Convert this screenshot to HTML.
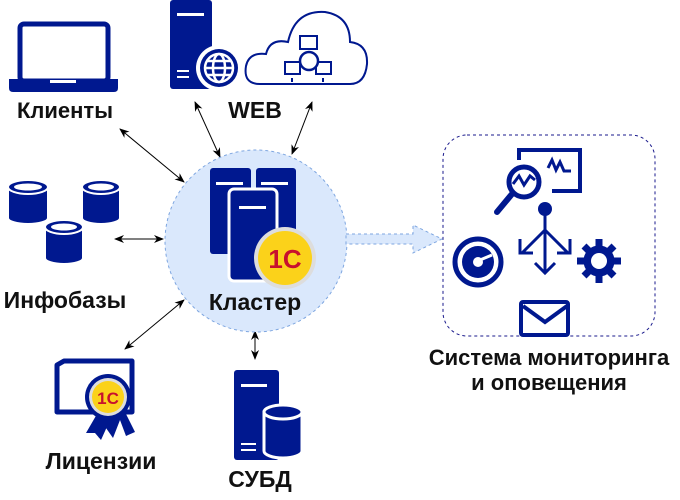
<!DOCTYPE html>
<html><head><meta charset="utf-8"><style>
html,body{margin:0;padding:0;background:#fff;}
svg{display:block}
text{font-family:"Liberation Sans",sans-serif;font-weight:bold;fill:#111;}
</style></head><body>
<svg width="680" height="500" viewBox="0 0 680 500" xmlns="http://www.w3.org/2000/svg">
<defs>
<marker id="ah" viewBox="0 0 10 10" refX="9" refY="5" markerWidth="10" markerHeight="10" orient="auto-start-reverse">
<path d="M0,1 L10,5 L0,9 L3,5 Z" fill="#000"/></marker>
</defs>
<g stroke="#000" stroke-width="1" marker-start="url(#ah)" marker-end="url(#ah)">
<line x1="120" y1="129" x2="184" y2="182"/>
<line x1="195" y1="102" x2="220" y2="157"/>
<line x1="312" y1="102" x2="292" y2="154"/>
<line x1="115" y1="239" x2="163" y2="239"/>
<line x1="184" y1="300" x2="125" y2="349"/>
<line x1="255" y1="331" x2="255" y2="359"/>
</g>
<circle cx="256" cy="241" r="91" fill="#dae8fc" stroke="#7ea6e0" stroke-dasharray="3,3"/>
<path d="M346,234 L413,234 L413,225 L442,239 L413,253 L413,244 L346,244 Z" fill="#dae8fc" stroke="#7ea6e0" stroke-dasharray="3,3"/>
<g fill="#00188f">
<rect x="210" y="168" width="41" height="86" rx="3"/>
<rect x="256" y="168" width="40" height="86" rx="3"/>
</g>
<g fill="#fff"><rect x="216" y="182" width="27" height="3"/><rect x="261" y="182" width="27" height="3"/></g>
<rect x="229" y="189" width="48" height="92" rx="5" fill="#00188f" stroke="#fff" stroke-width="3"/>
<rect x="239" y="206" width="27" height="3" fill="#fff"/>
<circle cx="285" cy="258" r="31" fill="#ddd"/>
<circle cx="285" cy="258" r="27" fill="#fbd21a"/>
<text x="285" y="268" text-anchor="middle" font-size="26" style="fill:#c8102e;font-weight:bold">1С</text>
<text x="255" y="310" text-anchor="middle" font-size="23">Кластер</text>

<rect x="20" y="24" width="88" height="57" rx="4" fill="none" stroke="#00188f" stroke-width="5"/>
<path d="M9,79 L118,79 L118,88 Q118,92 114,92 L13,92 Q9,92 9,88 Z" fill="#00188f"/>
<rect x="50" y="80" width="26" height="3" fill="#fff"/>
<text x="65" y="118" text-anchor="middle" font-size="22">Клиенты</text>

<rect x="170" y="0" width="42" height="89" rx="3" fill="#00188f"/>
<rect x="177" y="13" width="27" height="3" fill="#fff"/>
<rect x="177" y="70" width="12" height="2" fill="#fff"/><rect x="177" y="76" width="12" height="2" fill="#fff"/>
<circle cx="219" cy="68" r="23" fill="#fff"/>
<circle cx="219" cy="68" r="19" fill="#00188f"/>
<g fill="none" stroke="#fff" stroke-width="2.5">
<circle cx="219" cy="68" r="14"/><ellipse cx="219" cy="68" rx="6" ry="14"/>
<line x1="205" y1="68" x2="233" y2="68"/><line x1="207" y1="61" x2="231" y2="61"/><line x1="207" y1="75" x2="231" y2="75"/>
</g>
<path d="M260,84 Q243,84 246,66 Q249,52 266,54 Q270,38 288,42 Q295,10 325,12 Q350,16 350,42 Q368,44 367,64 Q365,84 350,84 Z" fill="none" stroke="#00188f" stroke-width="2"/>
<g fill="none" stroke="#00188f" stroke-width="2">
<rect x="300" y="36" width="17" height="13"/><rect x="285" y="62" width="15" height="12"/><rect x="316" y="62" width="15" height="12"/>
<line x1="292" y1="78" x2="292" y2="82"/><line x1="323" y1="78" x2="323" y2="82"/>
</g>
<circle cx="309" cy="61" r="9" fill="#fff" stroke="#00188f" stroke-width="2.5"/>
<text x="255" y="118" text-anchor="middle" font-size="23">WEB</text>

<g fill="#00188f" stroke="#fff" stroke-width="2">
<path d="M8,187 L8,218 A20,6 0 0 0 48,218 L48,187 Z"/><ellipse cx="28" cy="187" rx="20" ry="7"/>
<path d="M82,187 L82,218 A19,6 0 0 0 120,218 L120,187 Z"/><ellipse cx="101" cy="187" rx="19" ry="7"/>
<path d="M45,227 L45,258 A19,6 0 0 0 83,258 L83,227 Z"/><ellipse cx="64" cy="227" rx="19" ry="7"/>
</g>
<g fill="#fff"><ellipse cx="28" cy="187" rx="14" ry="3.5"/><ellipse cx="101" cy="187" rx="13" ry="3.5"/><ellipse cx="64" cy="227" rx="13" ry="3.5"/></g>
<text x="65" y="308" text-anchor="middle" font-size="23">Инфобазы</text>

<path d="M57,365 L64,361 L132,361 L132,412 L57,412 Z" fill="none" stroke="#00188f" stroke-width="5" stroke-linejoin="round"/>
<path d="M95,420 L99,438 L106,428 L113,438 L120,420 L126,436 L135,432 L125,412 Z" fill="#00188f"/>
<path d="M97,414 L86,433 L95,433 L101,440 L110,420 Z" fill="#00188f"/>
<circle cx="108" cy="397" r="23" fill="#00188f"/>
<circle cx="108" cy="397" r="19" fill="#ddd"/>
<circle cx="108" cy="397" r="16" fill="#fbd21a"/>
<text x="108" y="404" text-anchor="middle" font-size="17" style="fill:#c8102e">1С</text>
<text x="101" y="469" text-anchor="middle" font-size="23">Лицензии</text>

<rect x="234" y="370" width="45" height="90" rx="3" fill="#00188f"/>
<rect x="241" y="384" width="26" height="3" fill="#fff"/>
<rect x="241" y="443" width="15" height="2" fill="#fff"/><rect x="241" y="449" width="15" height="2" fill="#fff"/>
<path d="M264,412 L264,451 A19,7 0 0 0 302,451 L302,412 Z" fill="#00188f" stroke="#fff" stroke-width="3"/>
<ellipse cx="283" cy="412" rx="19" ry="7" fill="#00188f" stroke="#fff" stroke-width="3"/>
<text x="260" y="487" text-anchor="middle" font-size="23">СУБД</text>

<rect x="443" y="135" width="212" height="201" rx="24" fill="none" stroke="#1a1a8c" stroke-dasharray="3,3"/>
<g fill="none" stroke="#00188f" stroke-width="4">
<path d="M519,160 L519,150 L580,150 L580,191 L552,191"/>
<path d="M548,168 L552,160 L556,170 L560,162 L564,171 L571,171" stroke-width="3"/>
<circle cx="524" cy="182" r="15" stroke-width="5"/>
<path d="M513,184 L519,176 L524,185 L530,176 L535,180" stroke-width="3"/>
<line x1="512" y1="194" x2="497" y2="212" stroke-width="6" stroke-linecap="round"/>
<line x1="545" y1="210" x2="545" y2="273" stroke-width="3"/>
<line x1="545" y1="230" x2="522" y2="253" stroke-width="3"/>
<line x1="545" y1="230" x2="568" y2="253" stroke-width="3"/>
<path d="M520,239 L520,253 L533,253 M570,239 L570,253 L557,253 M535,263 L545,273 L555,263" stroke-width="3"/>
<circle cx="478" cy="262" r="23" stroke-width="5"/>
<circle cx="599" cy="261" r="12" stroke-width="7"/>
<rect x="521" y="302" width="47" height="33" rx="2" stroke-width="4"/>
<path d="M523,306 L545,322 L567,306" stroke-width="4"/>
</g>
<circle cx="545" cy="209" r="7" fill="#00188f"/>
<circle cx="478" cy="262" r="16" fill="#00188f"/>
<circle cx="478" cy="262" r="5" fill="#fff"/>
<path d="M480,260 L492,255" stroke="#fff" stroke-width="3"/>
<g stroke="#00188f" stroke-width="7">
<line x1="599" y1="239" x2="599" y2="283"/><line x1="577" y1="261" x2="621" y2="261"/>
<line x1="584" y1="246" x2="614" y2="276"/><line x1="614" y1="246" x2="584" y2="276"/>
</g>
<circle cx="599" cy="261" r="11" fill="#00188f"/>
<circle cx="599" cy="261" r="8" fill="#fff"/>
<text x="549" y="365" text-anchor="middle" font-size="22">Система мониторинга</text>
<text x="549" y="390" text-anchor="middle" font-size="22">и оповещения</text>
</svg>
</body></html>
